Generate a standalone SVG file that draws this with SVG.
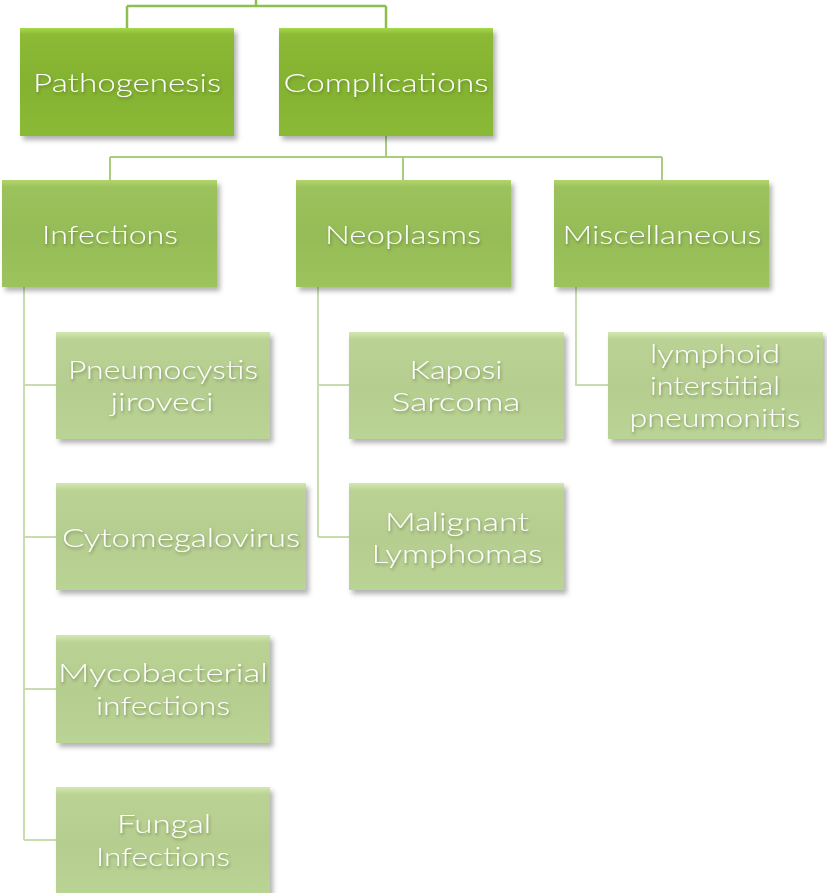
<svg xmlns="http://www.w3.org/2000/svg" width="827" height="893" viewBox="0 0 827 893">
<defs>
<linearGradient id="g1" x1="0" y1="0" x2="0" y2="1">
<stop offset="0" stop-color="#a6d94a"/>
<stop offset="0.06" stop-color="#8cba35"/>
<stop offset="0.5" stop-color="#84b232"/>
<stop offset="1" stop-color="#8aba36"/>
</linearGradient>
<linearGradient id="g2" x1="0" y1="0" x2="0" y2="1">
<stop offset="0" stop-color="#b1d46e"/>
<stop offset="0.07" stop-color="#9cc25c"/>
<stop offset="0.5" stop-color="#96bc58"/>
<stop offset="1" stop-color="#9cc35c"/>
</linearGradient>
<linearGradient id="g3" x1="0" y1="0" x2="0" y2="1">
<stop offset="0" stop-color="#d3e8b0"/>
<stop offset="0.07" stop-color="#bad293"/>
<stop offset="0.5" stop-color="#b5cd8f"/>
<stop offset="1" stop-color="#bad495"/>
</linearGradient>
<filter id="sh" x="-10%" y="-10%" width="125%" height="130%">
<feDropShadow dx="3" dy="4" stdDeviation="2.5" flood-color="#000" flood-opacity="0.3"/>
</filter>
<filter id="ts" x="-10%" y="-30%" width="120%" height="160%">
<feDropShadow dx="1" dy="2" stdDeviation="1.5" flood-color="#3a4a20" flood-opacity="0.45"/>
</filter>
</defs>
<style>
.l1{fill:url(#g1);filter:url(#sh)}
.l2{fill:url(#g2);filter:url(#sh)}
.l3{fill:url(#g3);filter:url(#sh)}
text{font-family:"Lato","Open Sans","Liberation Sans",Arial,sans-serif;font-weight:300;font-size:26px;fill:#ffffff;text-anchor:middle;filter:url(#ts)}
.c1{fill:none;stroke:#8cbf4f;stroke-width:2.5}
.c2{fill:none;stroke:#a9cc7e;stroke-width:2}
.c3{fill:none;stroke:#c7ddb0;stroke-width:2}
</style>
<rect width="827" height="893" fill="#ffffff"/>
<g id="connectors">
<path class="c1" d="M256,0 V6 M127,6 H386 M127,6 V28 M386,6 V28"/>
<path class="c2" d="M386,136 V157 M110,157 H662 M110,157 V180 M403,157 V180 M662,157 V180"/>
<path class="c3" d="M24,287 V840 M24,385 H56 M24,537 H56 M24,689 H56 M24,840 H56"/>
<path class="c3" d="M318,287 V537 M318,385 H349 M318,537 H349"/>
<path class="c3" d="M576,287 V385 H608"/>
</g>
<g id="pathogenesis"><rect class="l1" x="20" y="28" width="214" height="108"/><text x="127" y="92" textLength="188" lengthAdjust="spacingAndGlyphs">Pathogenesis</text></g>
<g id="complications"><rect class="l1" x="279" y="28" width="214" height="108"/><text x="386" y="92" textLength="205" lengthAdjust="spacingAndGlyphs">Complications</text></g>
<g id="infections"><rect class="l2" x="2" y="180" width="215" height="107"/><text x="110" y="244" textLength="136" lengthAdjust="spacingAndGlyphs">Infections</text></g>
<g id="neoplasms"><rect class="l2" x="296" y="180" width="215" height="107"/><text x="403" y="244" textLength="156" lengthAdjust="spacingAndGlyphs">Neoplasms</text></g>
<g id="miscellaneous"><rect class="l2" x="554" y="180" width="215" height="107"/><text x="662" y="244" textLength="199" lengthAdjust="spacingAndGlyphs">Miscellaneous</text></g>
<g id="pneumocystis"><rect class="l3" x="56" y="332" width="214" height="107"/><text><tspan x="163" y="379" textLength="190" lengthAdjust="spacingAndGlyphs">Pneumocystis</tspan><tspan x="162" y="411" textLength="103" lengthAdjust="spacingAndGlyphs">jiroveci</tspan></text></g>
<g id="cytomegalovirus"><rect class="l3" x="56" y="483" width="250" height="107"/><text x="181" y="547" textLength="238" lengthAdjust="spacingAndGlyphs">Cytomegalovirus</text></g>
<g id="mycobacterial"><rect class="l3" x="56" y="635" width="214" height="108"/><text><tspan x="163" y="682" textLength="210" lengthAdjust="spacingAndGlyphs">Mycobacterial</tspan><tspan x="163" y="715" textLength="134" lengthAdjust="spacingAndGlyphs">infections</tspan></text></g>
<g id="fungal"><rect class="l3" x="56" y="787" width="214" height="108"/><text><tspan x="164" y="833" textLength="94" lengthAdjust="spacingAndGlyphs">Fungal</tspan><tspan x="163" y="866" textLength="134" lengthAdjust="spacingAndGlyphs">Infections</tspan></text></g>
<g id="kaposi"><rect class="l3" x="349" y="332" width="215" height="107"/><text><tspan x="456" y="379" textLength="93" lengthAdjust="spacingAndGlyphs">Kaposi</tspan><tspan x="456" y="411" textLength="129" lengthAdjust="spacingAndGlyphs">Sarcoma</tspan></text></g>
<g id="malignant"><rect class="l3" x="349" y="483" width="215" height="107"/><text><tspan x="457" y="531" textLength="144" lengthAdjust="spacingAndGlyphs">Malignant</tspan><tspan x="457" y="563" textLength="171" lengthAdjust="spacingAndGlyphs">Lymphomas</tspan></text></g>
<g id="lymphoid"><rect class="l3" x="608" y="332" width="215" height="107"/><text><tspan x="715" y="363" textLength="130" lengthAdjust="spacingAndGlyphs">lymphoid</tspan><tspan x="715" y="395" textLength="130" lengthAdjust="spacingAndGlyphs">interstitial</tspan><tspan x="715" y="427" textLength="171" lengthAdjust="spacingAndGlyphs">pneumonitis</tspan></text></g>
</svg>
